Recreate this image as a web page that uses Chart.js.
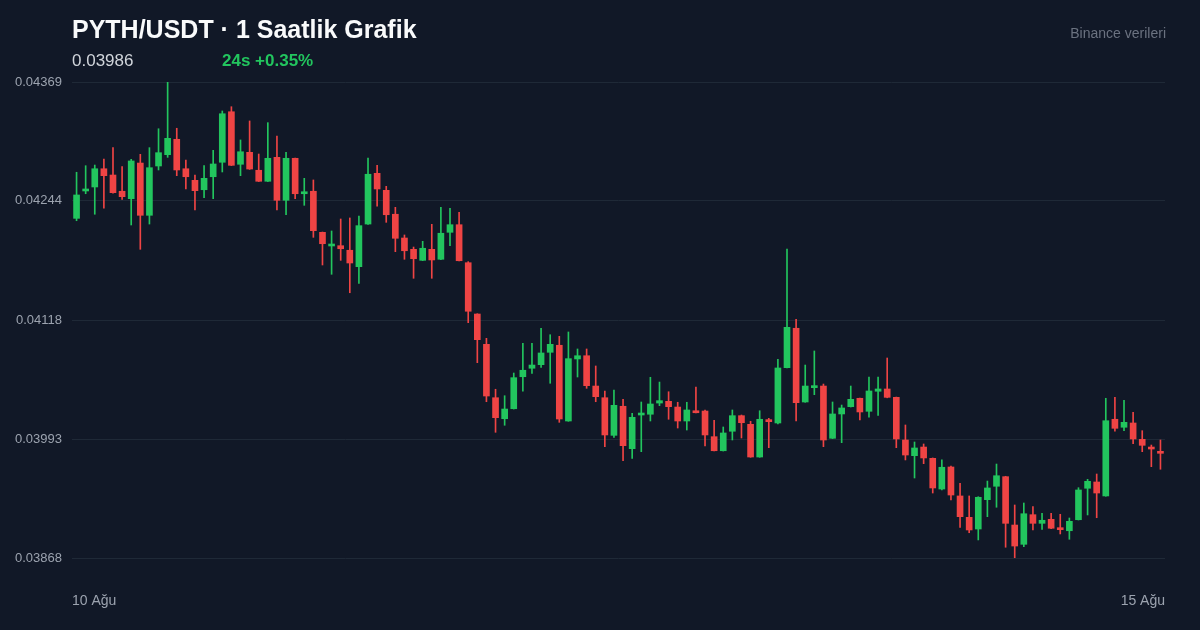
<!DOCTYPE html>
<html>
<head>
<meta charset="utf-8">
<script src="https://cdn.jsdelivr.net/npm/chart.js@4.4.1/dist/chart.umd.min.js"></script>
<style>
  html, body { margin: 0; padding: 0; background: #111827; }
  #wrap { position: relative; width: 1200px; height: 630px; overflow: hidden; background: #111827;
          font-family: "Liberation Sans", Arial, Helvetica, sans-serif; }
  #c { position: absolute; left: 0; top: 0; }
  .t { position: absolute; white-space: nowrap; }
  #title { left: 72px; top: 17px; font-size: 25px; line-height: 25px; font-weight: bold; color: #f9fafb; }
  #price { left: 72px; top: 52px; font-size: 17px; line-height: 17px; color: #d1d5db; }
  #chg { left: 222px; top: 52px; font-size: 17px; line-height: 17px; font-weight: bold; color: #22c55e; }
  #src { right: 34px; top: 26px; font-size: 14px; line-height: 14px; color: #6b7280; }
</style>
</head>
<body>
<div id="wrap">
  <canvas id="c" width="1200" height="630"></canvas>
  <div class="t" id="title">PYTH/USDT · 1 Saatlik Grafik</div>
  <div class="t" id="price">0.03986</div>
  <div class="t" id="chg">24s +0.35%</div>
  <div class="t" id="src">Binance verileri</div>
</div>
<script>
const opens = [
0.042255,0.042543,0.042585,0.042777,0.042711,0.042540,0.042462,0.042837,0.042287,0.042806,
0.042925,0.043087,0.042777,0.042655,0.042556,0.042693,0.042845,0.043377,0.042824,0.042950,
0.042761,0.042645,0.042897,0.042445,0.042887,0.042514,0.042540,0.042108,0.041964,0.041967,
0.041919,0.041746,0.042195,0.042729,0.042550,0.042298,0.042048,0.041929,0.041813,0.041929,
0.041824,0.042108,0.042188,0.041788,0.041248,0.040929,0.040367,0.040146,0.040251,0.040588,
0.040677,0.040715,0.040845,0.040919,0.040122,0.040775,0.040809,0.040490,0.040367,0.039971,
0.040277,0.039831,0.040185,0.040193,0.040311,0.040329,0.040269,0.040122,0.040227,0.040227,
0.039957,0.039809,0.040014,0.040178,0.040087,0.039743,0.040129,0.040101,0.040683,0.041098,
0.040322,0.040473,0.040490,0.039940,0.040196,0.040273,0.040361,0.040224,0.040435,0.040459,
0.040371,0.039922,0.039757,0.039848,0.039729,0.039406,0.039638,0.039333,0.039108,0.038985,
0.039294,0.039435,0.039536,0.039027,0.038824,0.039136,0.039045,0.039087,0.038999,0.038967,
0.039083,0.039414,0.039480,0.039333,0.040140,0.040056,0.040101,0.039929,0.039848,0.039799
];
const highs = [
0.042740,0.042809,0.042816,0.042880,0.042999,0.042799,0.042876,0.042929,0.042999,0.043198,
0.043690,0.043203,0.042869,0.042711,0.042809,0.042971,0.043385,0.043430,0.043080,0.043280,
0.042932,0.043262,0.043122,0.042950,0.042890,0.042676,0.042659,0.042111,0.042122,0.042248,
0.042259,0.042280,0.042890,0.042813,0.042592,0.042371,0.042080,0.041953,0.042013,0.042192,
0.042371,0.042361,0.042319,0.041799,0.041251,0.040992,0.040456,0.040388,0.040627,0.040940,
0.040940,0.041098,0.041030,0.041013,0.041059,0.040880,0.040880,0.040701,0.040438,0.040448,
0.040350,0.040203,0.040322,0.040582,0.040532,0.040430,0.040319,0.040319,0.040480,0.040238,
0.040129,0.040059,0.040238,0.040185,0.040119,0.040230,0.040150,0.040771,0.041932,0.041192,
0.040711,0.040859,0.040511,0.040322,0.040290,0.040490,0.040364,0.040585,0.040585,0.040785,
0.040374,0.040080,0.039901,0.039880,0.039733,0.039712,0.039648,0.039466,0.039333,0.039325,
0.039490,0.039669,0.039540,0.039238,0.039259,0.039220,0.039151,0.039151,0.039140,0.039101,
0.039420,0.039508,0.039564,0.040361,0.040371,0.040340,0.040214,0.040020,0.039869,0.039922
];
const lows = [
0.042230,0.042514,0.042298,0.042361,0.042520,0.042455,0.042185,0.041929,0.042195,0.042764,
0.042897,0.042704,0.042564,0.042343,0.042472,0.042462,0.042743,0.042810,0.042704,0.042770,
0.042642,0.042642,0.042343,0.042293,0.042462,0.042392,0.042055,0.041764,0.041666,0.041813,
0.041472,0.041571,0.042192,0.042382,0.042213,0.041904,0.041824,0.041624,0.041810,0.041624,
0.041821,0.041967,0.041806,0.041157,0.040736,0.040325,0.040003,0.040077,0.040248,0.040435,
0.040624,0.040687,0.040519,0.040108,0.040119,0.040585,0.040466,0.040325,0.039852,0.039950,
0.039704,0.039729,0.039799,0.040122,0.040283,0.040140,0.040048,0.040027,0.040206,0.039859,
0.039806,0.039806,0.039922,0.039943,0.039740,0.039740,0.039841,0.040090,0.040680,0.040122,
0.040319,0.040399,0.039852,0.039937,0.039894,0.040269,0.040133,0.040161,0.040182,0.040366,
0.039841,0.039712,0.039522,0.039673,0.039364,0.039396,0.039291,0.039003,0.038946,0.038870,
0.039115,0.039214,0.038793,0.038683,0.038799,0.038975,0.038982,0.038990,0.038933,0.038877,
0.039080,0.039133,0.039104,0.039330,0.040014,0.040020,0.039883,0.039799,0.039641,0.039614
];
const closes = [
0.042501,0.042553,0.042777,0.042704,0.042525,0.042483,0.042859,0.042287,0.042788,0.042946,
0.043097,0.042764,0.042693,0.042546,0.042676,0.042827,0.043356,0.042813,0.042956,0.042774,
0.042645,0.042887,0.042445,0.042887,0.042514,0.042535,0.042125,0.041988,0.041978,0.041935,
0.041785,0.042178,0.042719,0.042564,0.042293,0.042045,0.041914,0.041830,0.041940,0.041817,
0.042098,0.042188,0.041809,0.041277,0.040978,0.040385,0.040157,0.040248,0.040578,0.040656,
0.040711,0.040838,0.040929,0.040143,0.040778,0.040809,0.040494,0.040378,0.039975,0.040287,
0.039862,0.040161,0.040196,0.040301,0.040336,0.040273,0.040122,0.040238,0.040209,0.039975,
0.039809,0.039996,0.040178,0.040104,0.039743,0.040140,0.040115,0.040680,0.041108,0.040315,
0.040490,0.040490,0.039922,0.040196,0.040259,0.040350,0.040217,0.040438,0.040459,0.040371,
0.039933,0.039764,0.039838,0.039733,0.039417,0.039635,0.039343,0.039115,0.038975,0.039319,
0.039417,0.039546,0.039045,0.038806,0.039146,0.039045,0.039077,0.038993,0.038978,0.039066,
0.039396,0.039487,0.039364,0.040125,0.040045,0.040108,0.039933,0.039866,0.039827,0.039782
];
const yTicks = [0.03868, 0.03993, 0.04118, 0.04244, 0.04369];
const xTickLabels = ['10 Ağu', '15 Ağu'];
const categories = [];
for (let d = 10; d <= 14; d++) {
  for (let h = 0; h < 24; h++) categories.push(d + ' Ağu ' + String(h).padStart(2, '0') + ':00');
}

const UP = '#22c55e', DOWN = '#ef4444';
const colors = opens.map((o, i) => closes[i] >= o ? UP : DOWN);

new Chart(document.getElementById('c'), {
  type: 'bar',
  data: {
    labels: categories,
    datasets: [
      {
        label: 'body',
        data: opens.map((o, i) => [o, closes[i]]),
        backgroundColor: colors,
        borderWidth: 0,
        barThickness: 6,
        minBarLength: 2,
        grouped: false,
        xAxisID: 'x',
        order: 0
      },
      {
        label: 'wick',
        data: lows.map((l, i) => [l, highs[i]]),
        backgroundColor: colors,
        borderWidth: 0,
        barThickness: 1,
        grouped: false,
        xAxisID: 'x',
        order: 1
      }
    ]
  },
  options: {
    responsive: false,
    animation: false,
    devicePixelRatio: 1,
    layout: { padding: { left: 0, right: 34, top: 82, bottom: 0 } },
    plugins: { legend: { display: false }, tooltip: { enabled: false } },
    scales: {
      x: {
        type: 'category',
        display: false,
        offset: true,
        grid: { display: false }
      },
      x2: {
        type: 'category',
        labels: xTickLabels,
        position: 'bottom',
        offset: false,
        grid: { display: false, drawTicks: false },
        border: { display: false },
        afterFit: s => { s.height = 72; },
        ticks: {
          align: 'inner',
          autoSkip: false,
          maxRotation: 0,
          padding: 35,
          color: '#9ca3af',
          font: { family: '"Liberation Sans", Arial, sans-serif', size: 14 }
        }
      },
      y: {
        min: 0.03868,
        max: 0.04369,
        grid: { color: '#1f2937', lineWidth: 1, drawTicks: false },
        border: { display: false },
        afterBuildTicks: s => { s.ticks = yTicks.map(v => ({ value: v })); },
        afterFit: s => { s.width = 72; },
        ticks: {
          padding: 10,
          color: '#9ca3af',
          font: { family: '"Liberation Sans", Arial, sans-serif', size: 13 },
          callback: v => Number(v).toFixed(5)
        }
      }
    }
  }
});
</script>
</body>
</html>
